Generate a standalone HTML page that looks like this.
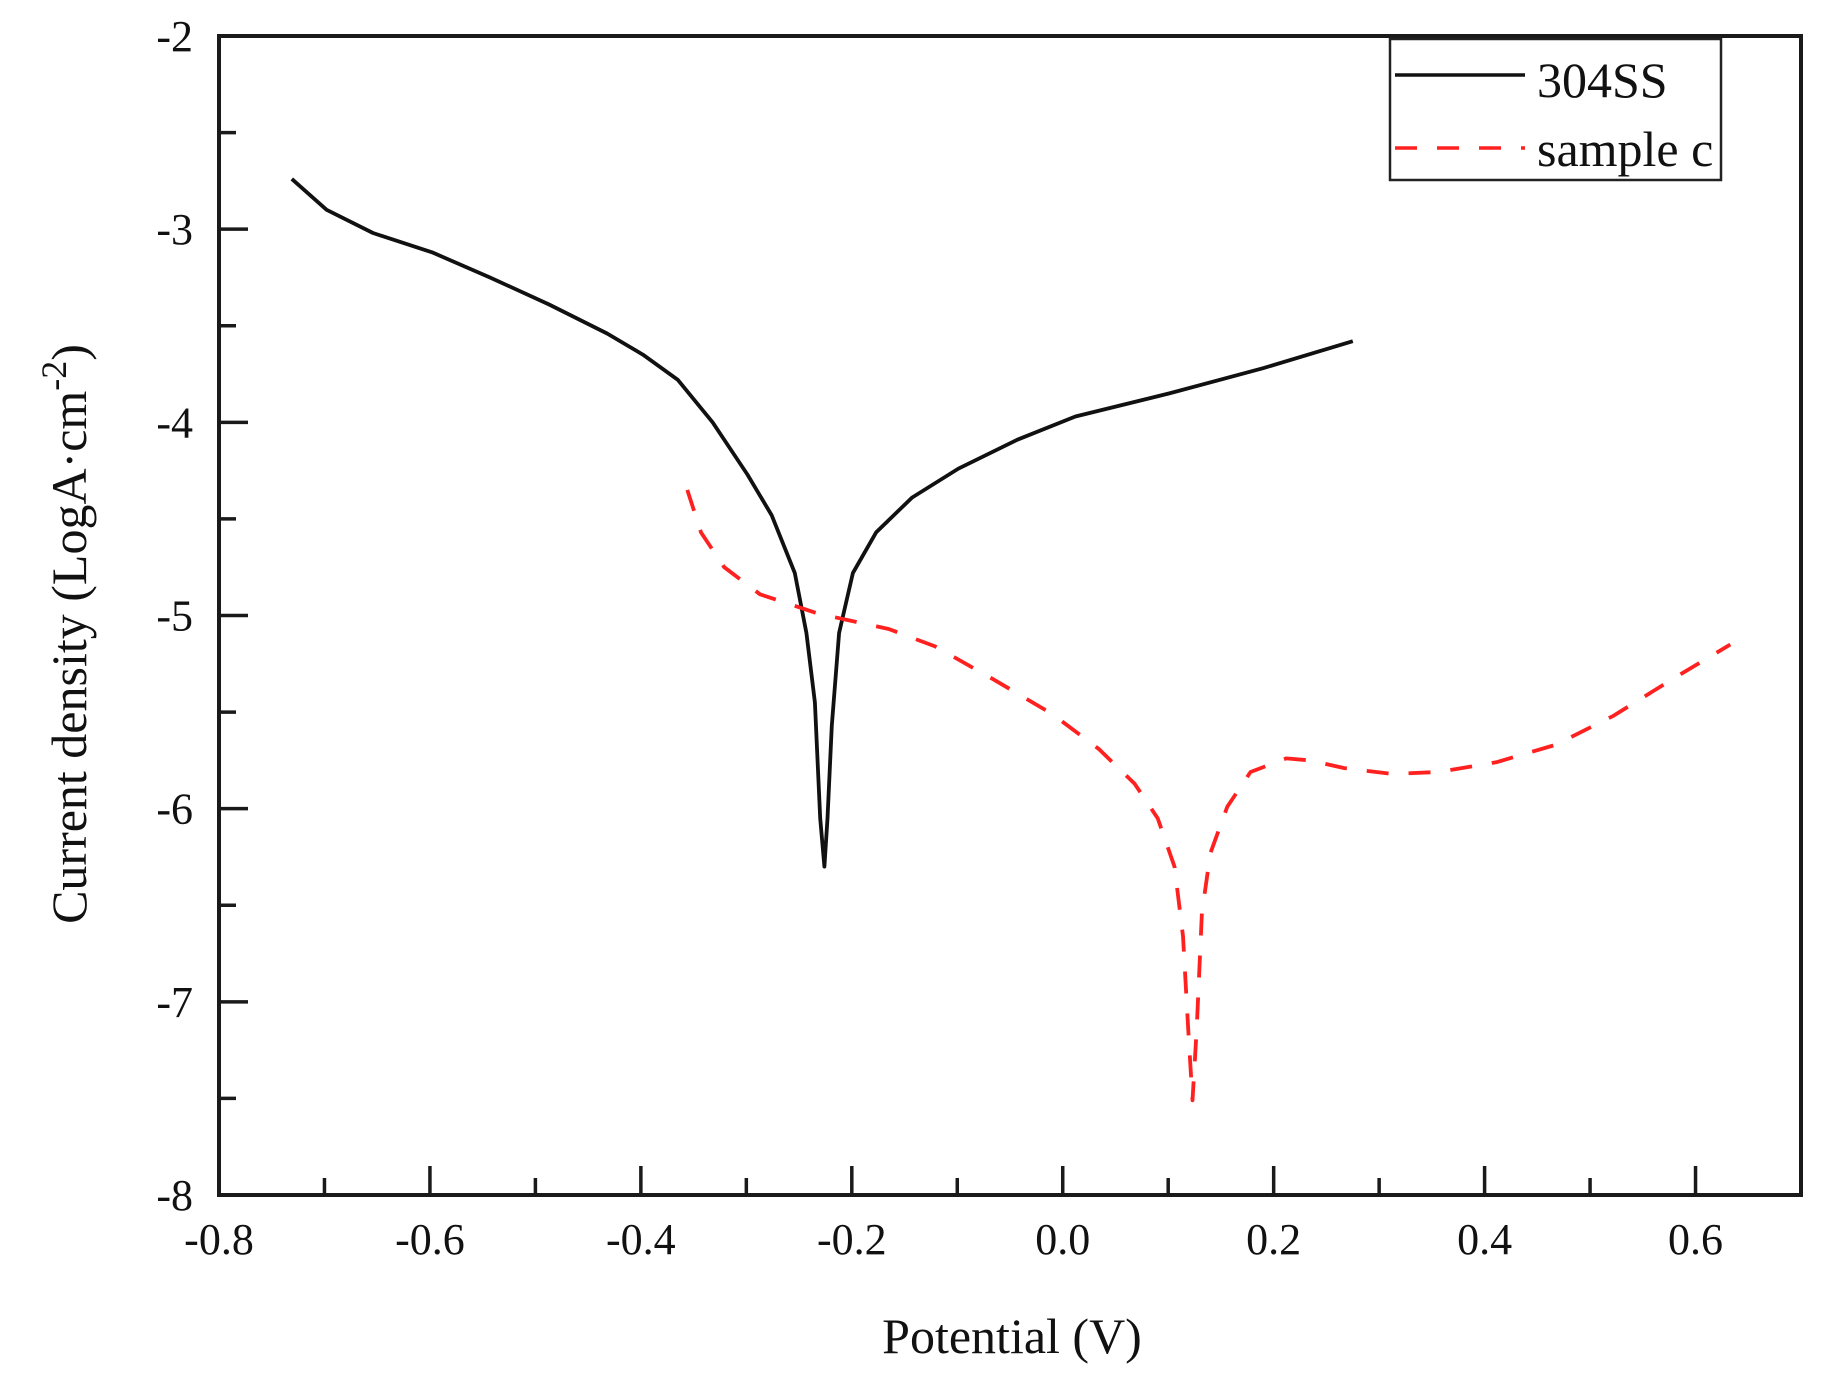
<!DOCTYPE html>
<html><head><meta charset="utf-8"><style>
html,body{margin:0;padding:0;background:#fff;}
svg text{font-family:"Liberation Serif",serif;fill:#111;}
</style></head><body>
<svg id="chart" width="1831" height="1373" viewBox="0 0 1831 1373" xmlns="http://www.w3.org/2000/svg">
<g id="axes"></g>
<g id="series"></g>
<g id="legend">
 <rect x="1390" y="39" width="331" height="141" fill="#fff" stroke="#222" stroke-width="2.5"/>
 <line x1="1395" y1="75" x2="1525" y2="75" stroke="#111" stroke-width="3.5"/>
 <text x="1537" y="97" font-size="50">304SS</text>
 <line x1="1395" y1="148" x2="1525" y2="148" stroke="#ff2020" stroke-width="3.5" stroke-dasharray="22,20"/>
 <text x="1537" y="166" font-size="50">sample c</text>
</g>
<text x="1012" y="1353" font-size="50" text-anchor="middle">Potential (V)</text>
<text transform="translate(86,634) rotate(-90)" font-size="50" text-anchor="middle">Current density (LogA·cm<tspan baseline-shift="super" font-size="36">-2</tspan>)</text>
</svg>
<script>
const xTicks = [-0.8,-0.6,-0.4,-0.2,0.0,0.2,0.4,0.6];
const xTickLabels = ["-0.8","-0.6","-0.4","-0.2","0.0","0.2","0.4","0.6"];
const yTicks = [-2,-3,-4,-5,-6,-7,-8];
const yTickLabels = ["-2","-3","-4","-5","-6","-7","-8"];
const ss304V = [-0.731,-0.698,-0.654,-0.598,-0.543,-0.487,-0.432,-0.398,-0.365,-0.332,-0.299,-0.276,-0.254,-0.243,-0.235,-0.230,-0.226,-0.223,-0.219,-0.212,-0.199,-0.177,-0.143,-0.099,-0.043,0.012,0.101,0.190,0.275];
const ss304I = [-2.74,-2.90,-3.02,-3.12,-3.25,-3.39,-3.54,-3.65,-3.78,-4.00,-4.27,-4.48,-4.78,-5.09,-5.45,-6.05,-6.30,-6.05,-5.57,-5.09,-4.78,-4.57,-4.39,-4.24,-4.09,-3.97,-3.85,-3.72,-3.58];
const sampleCV = [-0.356,-0.343,-0.321,-0.287,-0.232,-0.165,-0.121,-0.066,-0.010,0.034,0.068,0.090,0.106,0.114,0.119,0.123,0.127,0.132,0.140,0.156,0.178,0.212,0.234,0.267,0.312,0.356,0.411,0.467,0.522,0.578,0.633];
const sampleCI = [-4.35,-4.57,-4.75,-4.89,-4.99,-5.07,-5.16,-5.33,-5.51,-5.69,-5.87,-6.05,-6.30,-6.66,-7.14,-7.51,-7.14,-6.54,-6.23,-5.99,-5.81,-5.74,-5.75,-5.79,-5.82,-5.81,-5.76,-5.67,-5.52,-5.33,-5.15];

const X0=219, X1=1801, XMIN=-0.8, XMAX=0.7;
const Y0=36, Y1=1195, YMAX=-2, YMIN=-8;
const sx=v=>X0+(v-XMIN)/(XMAX-XMIN)*(X1-X0);
const sy=v=>Y0+(YMAX-v)/(YMAX-YMIN)*(Y1-Y0);
const NS='http://www.w3.org/2000/svg';
function mk(tag,attrs,parent){const e=document.createElementNS(NS,tag);for(const k in attrs)e.setAttribute(k,attrs[k]);parent.appendChild(e);return e;}
const axes=document.getElementById('axes');
const frame=mk('rect',{x:X0,y:Y0,width:X1-X0,height:Y1-Y0,fill:'none',stroke:'#1a1a1a','stroke-width':4},axes);


xTicks.forEach((v,i)=>{
  const t=mk('line',{x1:sx(v),x2:sx(v),y1:Y1,y2:Y1-29,stroke:'#1a1a1a','stroke-width':3.5},axes);
  
  
  const m=mk('line',{x1:sx(v+0.1),x2:sx(v+0.1),y1:Y1,y2:Y1-17,stroke:'#1a1a1a','stroke-width':3.5},axes);
  
  
  const l=mk('text',{x:sx(v),y:Y1+59,'font-size':44,'text-anchor':'middle'},axes);
  l.textContent=xTickLabels[i];
  
  
});
yTicks.forEach((v,i)=>{
  const t=mk('line',{x1:X0,x2:X0+29,y1:sy(v),y2:sy(v),stroke:'#1a1a1a','stroke-width':3.5},axes);
  
  
  if(v>YMIN){const m=mk('line',{x1:X0,x2:X0+17,y1:sy(v-0.5),y2:sy(v-0.5),stroke:'#1a1a1a','stroke-width':3.5},axes);
  
  }
  const l=mk('text',{x:X0-26,y:sy(v)+15,'font-size':44,'text-anchor':'end'},axes);
  l.textContent=yTickLabels[i];
  
  
});
const ser=document.getElementById('series');
function pts(xs,ys){return xs.map((v,i)=>sx(v).toFixed(1)+','+sy(ys[i]).toFixed(1)).join(' ');}
const p1=mk('polyline',{points:pts(ss304V,ss304I),fill:'none',stroke:'#111','stroke-width':3.8,'stroke-linejoin':'round'},ser);


const p2=mk('polyline',{points:pts(sampleCV,sampleCI),fill:'none',stroke:'#ff2020','stroke-width':3.8,'stroke-dasharray':'22,20','stroke-linejoin':'round'},ser);


</script>
</body></html>
